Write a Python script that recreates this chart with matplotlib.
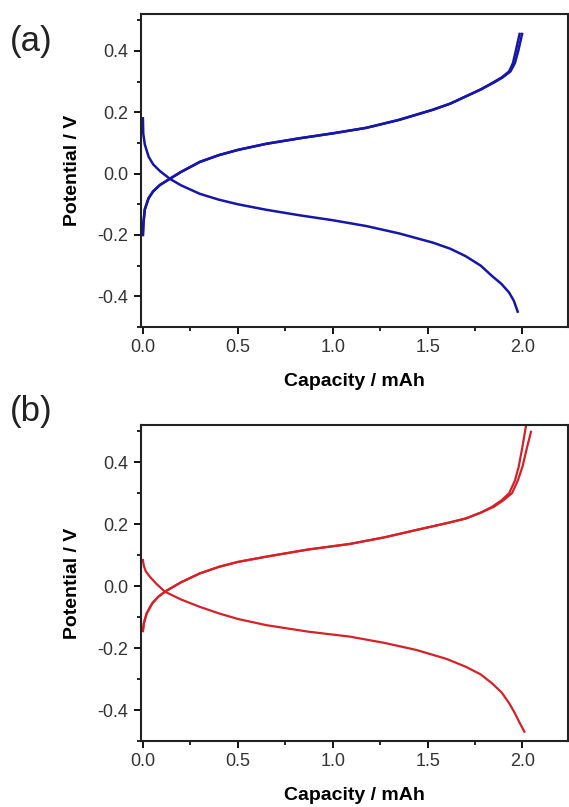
import matplotlib
matplotlib.use("Agg")
import matplotlib.pyplot as plt
from matplotlib.ticker import MultipleLocator

plt.rcParams['font.family'] = ['Liberation Sans', 'DejaVu Sans']

# ---- Panel (a) data ----
a_charge1_x = [0.0, 0.003, 0.01, 0.03, 0.054, 0.09, 0.142, 0.2, 0.3, 0.4, 0.5, 0.65, 0.826, 1.0, 1.177, 1.35, 1.528, 1.62, 1.70, 1.78, 1.84, 1.89, 1.93, 1.95, 1.965, 1.985]
a_charge1_y = [-0.20, -0.16, -0.117, -0.08, -0.058, -0.037, -0.017, 0.005, 0.038, 0.060, 0.077, 0.097, 0.115, 0.131, 0.149, 0.175, 0.208, 0.228, 0.251, 0.274, 0.295, 0.313, 0.333, 0.36, 0.40, 0.455]
a_charge2_x = [0.0, 0.003, 0.01, 0.03, 0.054, 0.09, 0.142, 0.2, 0.3, 0.4, 0.5, 0.65, 0.826, 1.0, 1.177, 1.35, 1.528, 1.62, 1.70, 1.78, 1.845, 1.895, 1.937, 1.96, 1.978, 1.998]
a_charge2_y = [-0.20, -0.16, -0.117, -0.08, -0.058, -0.037, -0.017, 0.005, 0.038, 0.060, 0.077, 0.097, 0.115, 0.131, 0.149, 0.175, 0.208, 0.228, 0.251, 0.274, 0.295, 0.313, 0.333, 0.36, 0.40, 0.455]
a_dis_x = [0.0, 0.002, 0.01, 0.03, 0.054, 0.09, 0.142, 0.2, 0.3, 0.4, 0.5, 0.65, 0.826, 1.0, 1.177, 1.35, 1.528, 1.62, 1.70, 1.78, 1.84, 1.89, 1.93, 1.955, 1.975]
a_dis_y = [0.18, 0.13, 0.095, 0.055, 0.03, 0.008, -0.017, -0.038, -0.066, -0.085, -0.100, -0.118, -0.136, -0.152, -0.171, -0.195, -0.225, -0.245, -0.269, -0.300, -0.334, -0.360, -0.388, -0.415, -0.45]

# ---- Panel (b) data ----
b_charge1_x = [0.0, 0.005, 0.02, 0.05, 0.08, 0.116, 0.2, 0.3, 0.4, 0.5, 0.65, 0.87, 1.09, 1.27, 1.44, 1.60, 1.70, 1.78, 1.84, 1.89, 1.93, 1.96, 1.98, 2.0, 2.022]
b_charge1_y = [-0.145, -0.12, -0.088, -0.055, -0.035, -0.018, 0.012, 0.041, 0.062, 0.078, 0.095, 0.118, 0.136, 0.157, 0.181, 0.203, 0.218, 0.237, 0.256, 0.277, 0.30, 0.34, 0.385, 0.45, 0.53]
b_charge2_x = [0.0, 0.005, 0.02, 0.05, 0.08, 0.116, 0.2, 0.3, 0.4, 0.5, 0.65, 0.87, 1.09, 1.27, 1.44, 1.60, 1.70, 1.78, 1.85, 1.90, 1.945, 1.975, 2.0, 2.025, 2.045]
b_charge2_y = [-0.145, -0.12, -0.088, -0.055, -0.035, -0.018, 0.012, 0.041, 0.062, 0.078, 0.095, 0.118, 0.136, 0.157, 0.181, 0.203, 0.218, 0.237, 0.256, 0.277, 0.30, 0.34, 0.385, 0.45, 0.498]
b_dis_x = [0.0, 0.005, 0.015, 0.037, 0.07, 0.116, 0.2, 0.3, 0.4, 0.5, 0.65, 0.87, 1.09, 1.27, 1.44, 1.60, 1.70, 1.78, 1.84, 1.89, 1.93, 1.96, 1.98, 2.01]
b_dis_y = [0.084, 0.065, 0.048, 0.03, 0.008, -0.018, -0.043, -0.067, -0.088, -0.106, -0.126, -0.147, -0.163, -0.183, -0.206, -0.235, -0.26, -0.285, -0.314, -0.343, -0.378, -0.41, -0.435, -0.47]

xticks = [0.0, 0.5, 1.0, 1.5, 2.0]
yticks = [-0.4, -0.2, 0.0, 0.2, 0.4]
blue = '#1616a8'
red = '#d42228'

fig = plt.figure(figsize=(5.69, 8.07), dpi=100)
W, H = 569, 807

def make_ax(top_px, bottom_px):
    left, right = 141, 568
    return fig.add_axes([left / W, 1 - bottom_px / H, (right - left) / W, (bottom_px - top_px) / H])

ax1 = make_ax(14, 327)
ax2 = make_ax(425, 741)

ax1.plot(a_charge1_x, a_charge1_y, color=blue, lw=1.8)
ax1.plot(a_charge2_x, a_charge2_y, color=blue, lw=1.8)
ax1.plot(a_dis_x, a_dis_y, color=blue, lw=1.8)

ax2.plot(b_charge1_x, b_charge1_y, color=red, lw=1.6)
ax2.plot(b_charge2_x, b_charge2_y, color=red, lw=1.6)
ax2.plot(b_dis_x, b_dis_y, color=red, lw=1.6)

for ax in (ax1, ax2):
    ax.set_xlim(-0.01, 2.24)
    ax.set_ylim(-0.5, 0.52)
    ax.set_xticks(xticks)
    ax.set_xticklabels([f"{v:.1f}" for v in xticks])
    ax.set_yticks(yticks)
    ax.set_yticklabels([f"{v:.1f}" for v in yticks])
    ax.xaxis.set_minor_locator(MultipleLocator(0.25))
    ax.yaxis.set_minor_locator(MultipleLocator(0.1))
    ax.tick_params(which='major', direction='out', length=5, width=1.3, labelsize=13,
                   labelcolor='#333333', top=False, right=False, pad=4)
    ax.tick_params(which='minor', direction='out', length=3, width=1.2, top=False, right=False)
    for s in ax.spines.values():
        s.set_linewidth(1.5)
        s.set_color('#222222')
    ax.set_xlabel('Capacity / mAh', fontsize=14, fontweight='bold', labelpad=12)
    ax.set_ylabel('Potential / V', fontsize=14, fontweight='bold', labelpad=12)

fig.text(10 / W, 1 - 42 / H, '(a)', fontsize=25, va='center', ha='left', color='#222222')
fig.text(10 / W, 1 - 412 / H, '(b)', fontsize=25, va='center', ha='left', color='#222222')

fig.savefig('out.png', dpi=100)
